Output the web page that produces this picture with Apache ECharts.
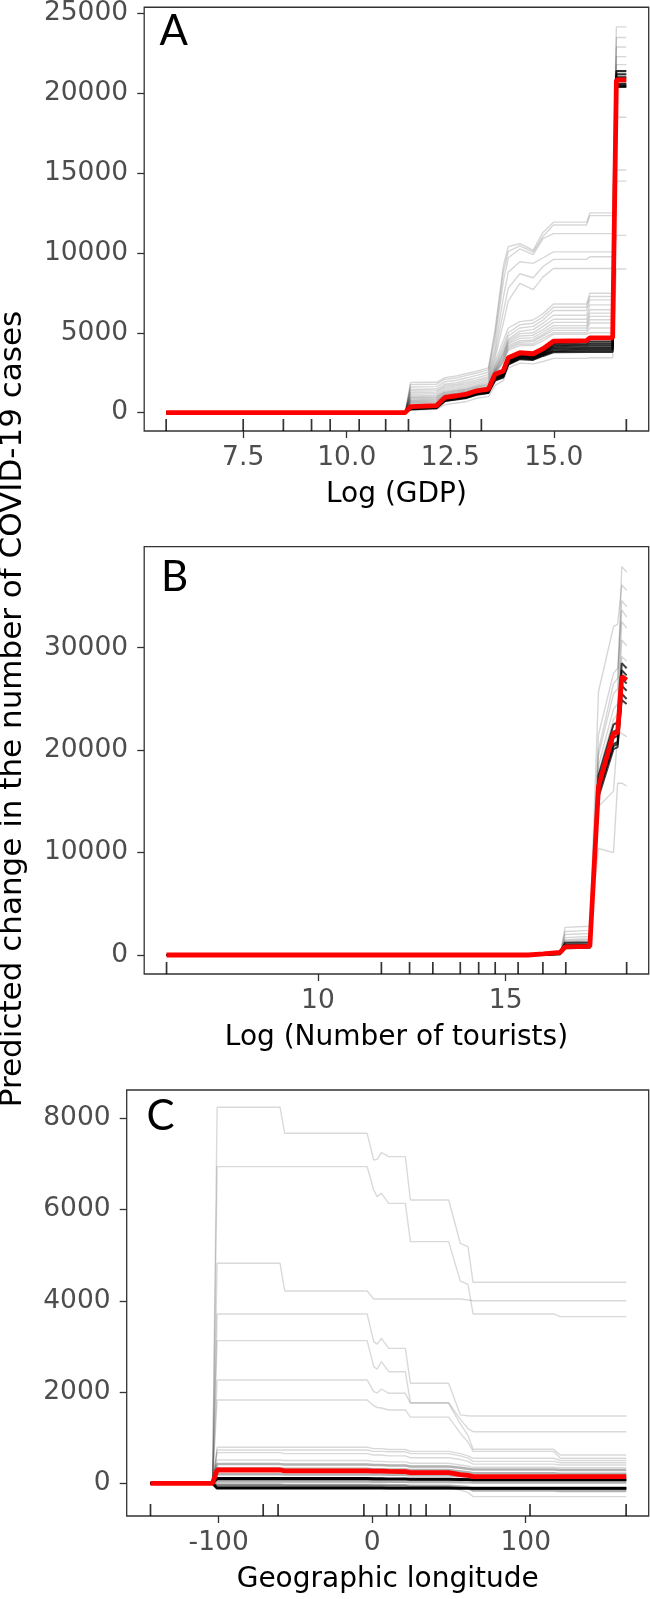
<!DOCTYPE html>
<html><head><meta charset="utf-8">
<script src="https://cdn.jsdelivr.net/npm/echarts@6/dist/echarts.min.js"></script>
<style>html,body{margin:0;padding:0;background:#fff}#c{width:650px;height:1599px}</style>
</head><body><div id="c"></div>
<script>
// ---------- Panel A : Log (GDP) ----------
const gdpGrid = [5.64, 11.41, 11.54, 12.17, 12.37, 12.65, 12.9, 13.14, 13.42, 13.58, 13.78, 13.9, 14.18, 14.5, 14.74, 14.99, 15.79, 15.87, 16.42, 16.51, 16.75];
const gdpMean = [0, 0, 373, 443, 952, 1056, 1160, 1367, 1470, 2402, 2610, 3438, 3749, 3686, 4000, 4473, 4514, 4680, 4680, 20837, 20837];
const gdpLight = [
  [0,0,1884,1900,2190,2300,2450,2600,2800,5200,9200,10400,10580,10170,11300,11930,11930,12510,12510,24160,24160],
  [0,0,1750,1780,2080,2180,2330,2480,2680,4900,8800,10100,10450,10050,11050,11750,11750,12340,12340,23500,23500],
  [0,0,1600,1630,1930,2030,2180,2330,2530,4500,8200,9700,10250,9900,10900,11210,11210,11210,11210,22900,22900],
  [0,0,1450,1480,1780,1880,2030,2180,2380,4000,7200,8800,9450,9350,9700,10070,10070,10070,10070,15200,15200],
  [0,0,1350,1380,1680,1780,1900,2050,2250,3700,6300,7800,8700,8450,9150,9600,9600,9760,9760,22300,22300],
  [0,0,1250,1280,1580,1680,1800,1950,2150,3400,5600,7000,8100,7700,8500,9030,9030,9030,9030,11100,11100],
  [0,0,1150,1180,1480,1580,1700,1850,2050,3200,4500,5300,5700,5800,6200,6800,6800,7480,7480,18500,18500],
  [0,0,1050,1080,1380,1480,1600,1750,1950,3000,4200,5000,5500,5600,6000,6600,6600,7270,7270,21800,21800],
  [0,0,980,1010,1300,1400,1520,1680,1850,2900,4000,4800,5300,5400,5800,6400,6400,7060,7060,21400,21400],
  [0,0,920,950,1250,1350,1470,1620,1780,2800,3800,4600,5100,5200,5600,6100,6100,6750,6750,14500,14500],
  [0,0,860,890,1200,1300,1420,1570,1720,2700,3700,4500,4950,5000,5400,5850,5850,6440,6440,21100,21100],
  [0,0,800,830,1150,1250,1370,1520,1660,2650,3600,4400,4800,4850,5200,5650,5650,6230,6230,20900,20900],
  [0,0,750,780,1100,1200,1320,1470,1610,2600,3500,4300,4650,4700,5050,5450,5450,6030,6030,21300,21300],
  [0,0,700,730,1060,1160,1280,1430,1560,2550,3400,4200,4500,4550,4900,5300,5300,5820,5820,20700,20700],
  [0,0,650,680,1020,1120,1240,1390,1520,2500,3300,4100,4400,4450,4800,5150,5150,5610,5610,21000,21000],
  [0,0,600,630,980,1080,1200,1350,1480,2450,3200,4000,4300,4300,4650,5000,5000,5300,5300,20600,20600],
  [0,0,550,580,940,1040,1160,1310,1440,2420,3150,3900,4200,4200,4500,4900,4900,5000,5000,20500,20500],
  [0,0,150,200,500,600,700,900,1000,1700,2000,2800,3100,3050,3200,3400,3400,3440,3440,9000,9000]
];
const gdpDark = [
  [0,0,330,400,900,1000,1100,1300,1400,2300,2500,3300,3650,3600,3850,4350,4400,4450,4450,21200,21200],
  [0,0,300,380,870,970,1070,1270,1370,2250,2450,3250,3600,3550,3800,4250,4300,4330,4330,21400,21400],
  [0,0,280,360,840,940,1040,1240,1340,2200,2400,3200,3550,3500,3750,4150,4200,4220,4220,20450,20450],
  [0,0,260,340,810,910,1010,1210,1310,2150,2350,3150,3500,3450,3700,4050,4100,4100,4100,21000,21000],
  [0,0,240,320,780,880,980,1180,1280,2100,2300,3100,3450,3400,3650,3950,4000,4000,4000,20400,20400],
  [0,0,220,300,750,850,950,1150,1250,2050,2250,3050,3400,3350,3600,3850,3900,3900,3900,20600,20600],
  [0,0,200,280,720,820,920,1120,1220,2000,2200,3000,3350,3300,3550,3780,3800,3800,3800,20500,20500]
];
const gdpRug = [5.64, 7.5, 8.47, 9.15, 9.6, 10.3, 10.94, 11.49, 12.5, 13.25, 16.75];
const gdpXTicks = [7.5, 10, 12.5, 15];
const gdpYTicks = [0, 5000, 10000, 15000, 20000, 25000];

// ---------- Panel B : Log (Number of tourists) ----------
const touGrid = [5.97, 15.6, 16.0, 16.45, 16.58, 17.24, 17.47, 17.87, 17.98, 18.09, 18.22];
const touMean = [0, 0, 100, 250, 800, 850, 16440, 21650, 21700, 27180, 26860];
const touLight = [
  [0,0,0,60,1500,1600,19500,25500,26000,37920,37400],
  [0,0,0,80,2000,2100,25700,32060,32300,36130,35600],
  [0,0,0,50,1700,1800,21500,27500,28000,34600,34000],
  [0,0,0,40,1400,1500,20000,26500,27000,33690,33000],
  [0,0,0,30,1300,1400,18500,24000,24500,32550,31900],
  [0,0,0,20,1100,1200,17800,23000,23500,30760,30200],
  [0,0,0,20,1000,1100,17200,22500,23000,29130,28700],
  [0,0,0,60,2700,2800,14500,16000,21650,21650,21300],
  [0,0,0,40,2300,2400,10400,10000,16770,16770,16500]
];
const touDark = [
  [0,0,50,200,1200,1250,17500,22500,22700,28500,28000],
  [0,0,40,180,1000,1050,16800,21800,22000,27800,27300],
  [0,0,30,150,900,950,16200,21200,21400,27000,26500],
  [0,0,20,120,750,800,15800,20600,20800,26300,25800],
  [0,0,10,100,650,700,15400,20100,20300,25500,25000],
  [0,0,30,150,850,900,16000,20400,20600,24900,24500]
];
const touRug = [5.97, 11.69, 12.44, 13.06, 13.79, 14.28, 14.72, 15.33, 15.99, 16.6, 18.22];
const touXTicks = [10, 15];
const touYTicks = [0, 10000, 20000, 30000];

// ---------- Panel C : Geographic longitude ----------
const lonGrid = [-144.4, -104, -101, -60, -57, -3.3, 1.0, 3.2, 6.0, 10.8, 18.4, 21.6, 24.9, 49.8, 57.4, 62.4, 65.7, 118.2, 122.5, 165.5];
const lonMean = [0, 0, 291, 291, 270, 270, 265, 265, 265, 260, 255, 255, 233, 233, 190, 175, 145, 145, 145, 145];
const lonLight = [
  [0,0,8241,8241,7671,7671,7086,7100,7247,7159,7159,7159,6209,6209,5260,5187,4405,4405,4405,4405],
  [0,0,6940,6940,6940,6940,6428,6282,6355,6136,6136,6136,5296,5296,4431,4358,3711,3711,3653,3653],
  [0,0,4822,4822,4215,4215,4039,4039,4039,4039,4039,4039,4039,4039,4039,4017,4000,4000,4000,4000],
  [0,0,3711,3711,3711,3711,3104,3050,3177,2958,2958,2958,2192,2192,1500,1480,1475,1475,1475,1475],
  [0,0,3127,3127,3127,3127,2556,2500,2666,2446,2446,2446,1767,1767,1400,1200,1131,1131,1131,1131],
  [0,0,2265,2265,2265,2265,2008,1980,2067,1972,1972,1972,1753,1753,1300,1050,745,745,620,620],
  [0,0,1827,1827,1827,1827,1700,1660,1650,1607,1607,1607,1450,1450,1100,900,700,700,548,548],
  [0,0,789,789,789,789,760,760,760,740,740,740,700,700,650,600,548,548,500,500],
  [0,0,730,730,730,730,700,700,700,690,690,690,650,650,600,550,480,480,450,450],
  [0,0,672,672,650,650,620,620,620,600,600,600,560,560,520,480,420,420,400,400],
  [0,0,511,511,500,500,480,480,480,470,470,470,440,440,400,380,350,350,340,340],
  [0,0,-20,-20,-30,-30,-40,-40,-40,-50,-50,-50,-80,-80,-150,-200,-293,-293,-293,-293]
];
const lonBand = [
  [0,0,420,420,410,410,400,400,400,390,390,390,370,370,340,320,300,300,290,290],
  [0,0,330,330,320,320,310,310,310,300,300,300,290,290,260,240,220,220,210,210],
  [0,0,200,200,195,195,190,190,190,185,185,185,175,175,160,150,140,140,135,135],
  [0,0,40,40,38,38,36,36,36,34,34,34,30,30,25,20,15,15,15,15],
  [0,0,-30,-30,-35,-35,-40,-40,-40,-45,-45,-45,-55,-55,-70,-80,-90,-90,-95,-95],
  [0,0,-60,-60,-65,-65,-70,-70,-70,-75,-75,-75,-80,-80,-90,-100,-160,-160,-170,-170]
];
const lonDark = [
  [0,0,110,110,110,110,105,105,105,100,100,100,95,95,90,85,80,80,80,80],
  [0,0,95,95,95,95,90,90,90,88,88,88,85,85,80,75,70,70,70,70],
  [0,0,-110,-110,-110,-110,-110,-110,-110,-110,-110,-110,-110,-110,-110,-110,-110,-110,-110,-110],
  [0,0,-100,-100,-100,-100,-100,-100,-100,-105,-105,-105,-105,-105,-108,-108,-115,-115,-115,-115]
];
const lonRug = [-144.4, -71.0, -61.3, -5.4, 9.4, 17.5, 25.1, 35.1, 50.7, 102.8, 165.4];
const lonXTicks = [-100, 0, 100];
const lonYTicks = [0, 2000, 4000, 6000, 8000];

const yTitle = 'Predicted change in the number of COVID-19 cases';
const xTitles = ['Log (GDP)', 'Log (Number of tourists)', 'Geographic longitude'];
const letters = ['A', 'B', 'C'];

// ---------- layout / style ----------
const FONT = 'DejaVu Sans';
const panels = [
  {grid:{left:144.2, top:4.7, width:504.5, height:426.3}, xMin:5.11, xMax:17.29, yMin:-1152, yMax:25392,
   xt:gdpXTicks, yt:gdpYTicks, fmt:v=>Number(v).toFixed(1), gridX:gdpGrid, mean:gdpMean,
   groups:[[gdpLight,'rgba(0,0,0,0.16)',1.4],[gdpDark,'rgba(0,0,0,0.8)',2]], rug:gdpRug, letter:[159.5, 31.5]},
  {grid:{left:144.2, top:546.7, width:504.5, height:427.3}, xMin:5.375, xMax:18.807, yMin:-1855, yMax:39863,
   xt:touXTicks, yt:touYTicks, fmt:v=>String(v), gridX:touGrid, mean:touMean,
   groups:[[touLight,'rgba(0,0,0,0.16)',1.4],[touDark,'rgba(0,0,0,0.75)',2]], rug:touRug, letter:[161, 577]},
  {grid:{left:126.7, top:1090, width:522, height:426}, xMin:-159.9, xMax:180.1, yMin:-717, yMax:8620,
   xt:lonXTicks, yt:lonYTicks, fmt:v=>String(v), gridX:lonGrid, mean:lonMean,
   groups:[[lonLight,'rgba(0,0,0,0.15)',1.4],[lonBand,'rgba(0,0,0,0.3)',2.5],[lonDark,'rgba(0,0,0,1)',2.5]], rug:lonRug, letter:[146.5, 1116]}
];

const grids = [], xAxes = [], yAxes = [], series = [], graphic = [];
panels.forEach((p, k) => {
  grids.push(Object.assign({show:true, borderColor:'#333333', borderWidth:1.3, backgroundColor:'#fff', containLabel:false}, p.grid));
  xAxes.push({type:'value', gridIndex:k, min:p.xMin, max:p.xMax,
    name:xTitles[k], nameLocation:'middle', nameGap:50,
    nameTextStyle:{fontFamily:FONT, fontSize:28, color:'#000'},
    axisLine:{show:false, onZero:false}, splitLine:{show:false},
    axisTick:{show:true, length:7, customValues:p.xt, lineStyle:{color:'#333333', width:1.3}},
    axisLabel:{customValues:p.xt, formatter:p.fmt, margin:14, fontFamily:FONT, fontSize:26.5, color:'#4D4D4D'}});
  yAxes.push({type:'value', gridIndex:k, min:p.yMin, max:p.yMax,
    axisLine:{show:false, onZero:false}, splitLine:{show:false},
    axisTick:{show:true, length:7, customValues:p.yt, lineStyle:{color:'#333333', width:1.3}},
    axisLabel:{customValues:p.yt, formatter:v=>String(v), margin:16, fontFamily:FONT, fontSize:26.5, color:'#4D4D4D'}});
  p.groups.forEach(([lines, col, w]) => {
    lines.forEach(vals => series.push({type:'line', xAxisIndex:k, yAxisIndex:k, symbol:'none', silent:true, animation:false,
      data:p.gridX.map((x,i)=>[x, vals[i]]), lineStyle:{color:col, width:w}, z:2}));
  });
  series.push({type:'line', xAxisIndex:k, yAxisIndex:k, symbol:'none', silent:true, animation:false,
    data:p.gridX.map((x,i)=>[x, p.mean[i]]), lineStyle:{color:'#FF0000', width:4.8}, z:5});
  series.push({type:'scatter', xAxisIndex:k, yAxisIndex:k, silent:true, animation:false, clip:false,
    data:p.rug.map(x=>[x, p.yMin]), symbol:'rect', symbolSize:[1.7,12], symbolOffset:[0,-6],
    itemStyle:{color:'#000'}, z:6});
  graphic.push({type:'text', x:p.letter[0], y:p.letter[1], z:10,
    style:{text:letters[k], font:'42px Lato', fill:'#000', textAlign:'left', textVerticalAlign:'middle', align:'left', verticalAlign:'middle'}});
});
graphic.push({type:'text', x:12.5, y:709, rotation:Math.PI/2, z:10,
  style:{text:yTitle, font:'31px "DejaVu Sans"', fill:'#000', textAlign:'center', textVerticalAlign:'middle', align:'center', verticalAlign:'middle'}});

const chart = echarts.init(document.getElementById('c'), null, {renderer:'canvas'});
chart.setOption({animation:false, backgroundColor:'#fff', grid:grids, xAxis:xAxes, yAxis:yAxes, series:series, graphic:graphic});
</script></body></html>
